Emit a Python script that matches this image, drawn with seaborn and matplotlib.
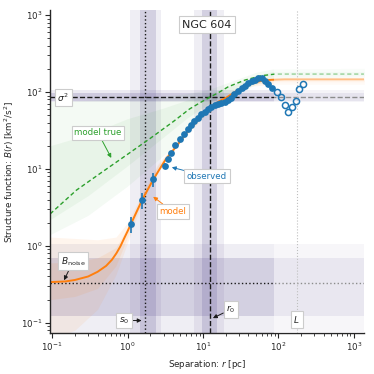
import numpy as np
import matplotlib
matplotlib.use("Agg")
import matplotlib.pyplot as plt
import seaborn as sns

# observed structure function (filled = used in fit, open = beyond fit range)
r_obs = [1.1, 1.55, 2.16, 3.1, 3.46, 3.8, 4.3, 4.9, 5.6, 6.3, 7.0, 7.7, 8.5, 9.5,
         10.5, 11.6, 12.8, 14.2, 15.7, 17.4, 19.3, 21.3, 23.6, 26.1, 29.3, 32.6,
         36.0, 39.8, 44.2, 48.8, 54.0, 59.8, 66.2, 73.3, 81.3]
B_obs = [1.93, 3.96, 7.3, 11.0, 13.4, 16.3, 20.5, 24.3, 28.5, 32.8, 37.3, 42.0,
         46.4, 51.0, 55.5, 60.0, 63.0, 67.0, 70.0, 72.6, 75.0, 78.7, 84.0, 93.0,
         104, 113, 121, 131, 139, 145, 150, 150, 141, 127, 113]
B_err = [0.45, 0.95, 1.5, 1.0, 1.0, 1.0, 1.0, 1.0, 1.0, 1.0, 1.0, 1.0, 1.0, 1.0,
         1.0, 1.0, 1.0, 1.0, 1.0, 1.0, 1.0, 1.0, 1.0, 1.0, 1.0, 1.0, 1.0, 1.0,
         1.0, 1.0, 1.0, 1.0, 1.0, 1.0, 1.0]
r_out = [96.4, 107, 122, 135, 151, 171, 187, 213]
B_out = [101, 85.4, 67.8, 55.5, 64.4, 77.1, 108, 126]

# best-fit model (with seeing + noise)
r_mod = [0.094, 0.15, 0.2, 0.3, 0.4, 0.52, 0.62, 0.71, 0.8, 0.91, 1.0, 1.1, 1.3,
         1.55, 1.85, 2.16, 2.6, 3.2, 4.4, 6.3, 9.5, 12.4, 16, 21, 27, 35, 45,
         60, 80, 120, 300, 1355]
B_mod = [0.338, 0.345, 0.36, 0.40, 0.46, 0.55, 0.66, 0.80, 0.98, 1.28, 1.55, 1.9,
         2.7, 3.9, 5.4, 7.1, 9.6, 13.3, 19.5, 31, 49, 62, 75, 86, 101, 117, 131,
         140, 144, 146, 146, 146]

# "true" model without seeing/noise
r_true = [0.094, 0.21, 0.43, 1.0, 2.0, 4.0, 6.6, 9.0, 12.4, 16, 21.6, 36, 60, 90, 1355]
B_true = [2.6, 5.3, 8.7, 15.5, 25, 41, 60, 72, 86, 98, 117, 143, 163, 171, 171]

# spread of posterior samples (outer / inner envelopes)
r_env_m = [0.094, 0.2, 0.4, 0.7, 1.0, 1.5, 2.5, 5, 10, 20, 40, 85, 1355]
m_lo_out = [0.06, 0.08, 0.15, 0.42, 1.1, 3.3, 9.5, 22, 47, 78, 118, 126, 126]
m_hi_out = [1.3, 1.25, 1.2, 1.3, 2.0, 4.5, 11.5, 26, 56, 92, 140, 158, 158]
m_lo_in = [0.2, 0.22, 0.28, 0.55, 1.3, 3.6, 10, 23, 49, 81, 124, 136, 136]
m_hi_in = [0.6, 0.62, 0.7, 0.95, 1.75, 4.2, 11, 25, 53, 88, 134, 150, 150]

r_env_t = [0.094, 0.3, 1, 3, 6, 12, 25, 50, 85, 1355]
t_lo_out = [1.4, 2.5, 6, 15, 30, 55, 90, 125, 150, 158]
t_hi_out = [75, 78, 82, 88, 95, 108, 140, 180, 200, 203]
t_lo_in = [2.2, 4.5, 11, 26, 45, 72, 105, 140, 160, 162]
t_hi_in = [20, 28, 45, 62, 78, 95, 125, 165, 185, 185]

# fitted parameters and their ranges
sig2, sig2_in, sig2_out = 85, (77, 97), (74, 106)
r0, r0_in, r0_out = 12.4, (9.8, 15.2), (7.5, 19.0)
s0, s0_in, s0_out = 1.68, (1.47, 2.4), (1.06, 2.75)
noise, noise_in, noise_out = 0.333, (0.123, 0.69), (0.05, 1.06)
box_L = 174
fit_max = 87

sns.set_theme(style="ticks")
plt.rcParams["font.family"] = ["DejaVu Sans"]
plt.rcParams["font.size"] = 6

c_blue, c_orange, c_green = "#1f77b4", "#ff7f0e", "#2ca02c"
c_band = (0.40, 0.35, 0.60)

fig = plt.figure(figsize=(3.74, 3.74), dpi=100)
ax = fig.add_axes([0.134, 0.110, 0.839, 0.863])
ax.set_xscale("log")
ax.set_yscale("log")

# parameter bands
for lo_hi, a in [(s0_out, 0.1), (s0_in, 0.2)]:
    ax.axvspan(*lo_hi, color=c_band, alpha=a, lw=0, zorder=0.5)
for lo_hi, a in [(r0_out, 0.1), (r0_in, 0.2)]:
    ax.axvspan(*lo_hi, color=c_band, alpha=a, lw=0, zorder=0.5)
for lo_hi, a in [(sig2_out, 0.12), (sig2_in, 0.22)]:
    ax.axhspan(*lo_hi, color=c_band, alpha=a, lw=0, zorder=0.5)
for lo_hi, a in [(noise_out, 0.1), (noise_in, 0.2)]:
    ax.axhspan(*lo_hi, color=c_band, alpha=a, lw=0, zorder=0.5)

# sample spreads
ax.fill_between(r_env_t, t_lo_out, t_hi_out, color=c_green, alpha=0.05, lw=0, zorder=1)
ax.fill_between(r_env_t, t_lo_in, t_hi_in, color=c_green, alpha=0.06, lw=0, zorder=1)
ax.fill_between(r_env_m, m_lo_out, m_hi_out, color=c_orange, alpha=0.07, lw=0, zorder=1)
ax.fill_between(r_env_m, m_lo_in, m_hi_in, color=c_orange, alpha=0.09, lw=0, zorder=1)

# reference lines
ax.axhline(sig2, color="k", ls="--", lw=1.0, zorder=2)
ax.axvline(r0, color="k", ls="--", lw=1.0, zorder=2)
ax.axvline(s0, color="k", ls=":", lw=1.0, zorder=2)
ax.axhline(noise, color="k", ls=":", lw=1.0, zorder=2)
ax.axvline(box_L, color="0.5", ls=":", lw=0.8, zorder=2)

# model curves
sns.lineplot(x=r_true, y=B_true, ax=ax, color=c_green, lw=1.0,
             linestyle=(0, (3, 2)), zorder=2.5)
sns.lineplot(x=r_mod, y=B_mod, ax=ax, color=c_orange, lw=1.4, zorder=2.5)

# fade region outside fit range
ax.axvspan(fit_max, 5000, color="white", alpha=0.5, lw=0, zorder=3)

# observations
ax.errorbar(r_obs, B_obs, yerr=B_err, fmt="none", ecolor=c_blue, elinewidth=1.2, zorder=4)
sns.scatterplot(x=r_obs, y=B_obs, ax=ax, color=c_blue, s=24, linewidth=0, zorder=4.5)
ax.plot(r_out, B_out, "o", ls="none", mfc="none", mec=c_blue, mew=1.1, ms=4.4, zorder=4.5)

ax.set_xlim(0.094, 1355)
ax.set_ylim(0.074, 1160)

box = dict(boxstyle="square,pad=0.3", fc="white", ec="0.8", lw=0.8)
arr = dict(arrowstyle="-|>", lw=0.7, mutation_scale=6, shrinkA=0, shrinkB=1)

ax.text(0.5, 0.955, "NGC 604", transform=ax.transAxes, ha="center", va="center",
        fontsize=8, bbox=box, zorder=6)
ax.text(0.14, sig2, r"$\sigma^2$", ha="center", va="center", fontsize=6.5, bbox=box, zorder=6)
ax.annotate("model true", xy=(0.62, 13.4), xytext=(0.406, 29.4), ha="center", va="center",
            color=c_green, fontsize=6.2, bbox=box, zorder=6,
            arrowprops=dict(arr, color=c_green))
ax.annotate("observed", xy=(3.7, 10.6), xytext=(11.3, 8.0), ha="center", va="center",
            color=c_blue, fontsize=6.2, bbox=box, zorder=6,
            arrowprops=dict(arr, color=c_blue))
ax.annotate("model", xy=(2.11, 4.46), xytext=(3.95, 2.8), ha="center", va="center",
            color=c_orange, fontsize=6.2, bbox=box, zorder=6,
            arrowprops=dict(arr, color=c_orange))
ax.annotate(r"$B_{\rm noise}$", xy=(0.141, 0.344), xytext=(0.19, 0.63), ha="center",
            va="center", fontsize=6.5, bbox=box, zorder=6,
            arrowprops=dict(arr, color="k"))
ax.annotate(r"$s_0$", xy=(1.6, 0.107), xytext=(0.9, 0.107), ha="center", va="center",
            fontsize=6.5, bbox=box, zorder=6, arrowprops=dict(arr, color="k"))
ax.annotate(r"$r_0$", xy=(13.0, 0.113), xytext=(23.5, 0.15), ha="center", va="center",
            fontsize=6.5, bbox=box, zorder=6, arrowprops=dict(arr, color="k"))
ax.text(box_L, 0.111, r"$L$", ha="center", va="center", fontsize=6.5, bbox=box, zorder=6)

ax.set_xlabel(r"Separation: $r$ [pc]", fontsize=6.3)
ax.set_ylabel(r"Structure function: $B(r)$ [km$^2$/s$^2$]", fontsize=6.3)
ax.tick_params(axis="both", which="major", labelsize=6.2, length=3.5, width=0.8, pad=2)
ax.tick_params(axis="both", which="minor", length=2, width=0.6)
for sp in ["left", "bottom"]:
    ax.spines[sp].set_linewidth(1.0)
sns.despine(ax=ax)

fig.savefig("out.png", dpi=100)
